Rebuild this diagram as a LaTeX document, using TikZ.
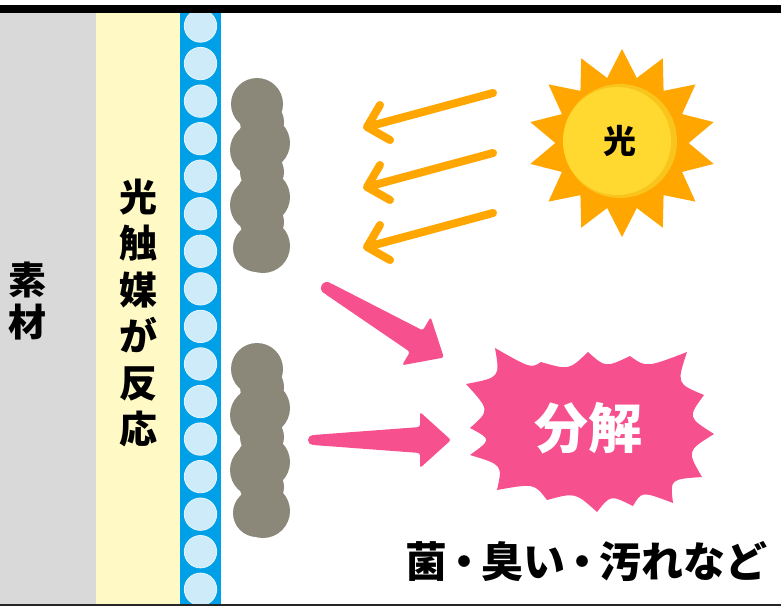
\documentclass[tikz,border=0pt]{standalone}
\usepackage{fontspec}
\newfontfamily\jp{Noto Sans CJK JP}
\usetikzlibrary{shapes.geometric,calc}

\definecolor{substrate}{HTML}{D9D9D9}
\definecolor{coat}{HTML}{FFF9C6}
\definecolor{film}{HTML}{00A0E9}
\definecolor{bubble}{HTML}{CDEBF8}
\definecolor{grime}{HTML}{8B8879}
\definecolor{sunorange}{HTML}{FFA600}
\definecolor{sundisc}{HTML}{FFD92F}
\definecolor{sunrim}{HTML}{F9C51C}
\definecolor{hotpink}{HTML}{F7508F}

% concave scallop between two burst tips
\newcommand\burstedge[2]{.. controls ($0.41*(#1)+0.41*(#2)+0.18*(bc)$) .. (#2)}

\begin{document}
\begin{tikzpicture}[x=1pt,y=-1pt,
  label/.style={font=\jp\bfseries, inner sep=0pt, align=center},
  ray/.style={draw=sunorange, line width=8pt, line cap=round, line join=round},
  pinkarrow/.style={fill=hotpink, rounded corners=2.5pt},
  dirt/.style={fill=grime}]
\useasboundingbox (0,0) rectangle (781,606);
\fill[white] (0,0) rectangle (781,606);

% material layers
\fill[substrate] (0,13) rectangle (96,604);
\fill[coat] (96,13) rectangle (180,604);
\fill[film] (180,13) rectangle (221,604);
\begin{scope}
  \clip (180,13) rectangle (221,604);
  \foreach \k in {0,...,15}
    \fill[bubble, draw=white!55!bubble, line width=0.8pt] (200.5,26+37.55*\k) circle (16.2pt);
\end{scope}

% frame lines
\fill[black] (0,5) rectangle (781,13);
\fill[black!85] (0,604) rectangle (781,606);

% layer captions
\node[label, font=\jp\bfseries\fontsize{38}{42}\selectfont] (material) at (28,301) {素\\材};
\node[label, font=\jp\bfseries\fontsize{38}{46.4}\selectfont] (catalyst) at (138,313) {光\\触\\媒\\が\\反\\応};

% grime patches on the surface (each blob filled on its own)
\foreach \dy/\nm in {0/upper,265/lower}{
  \begin{scope}[yshift=-\dy pt]
    \foreach \cx/\cy/\r in {257/104/26, 262/122/22, 263/143/27, 257/150/27,
                            262/172/22, 263/197/27, 257/205/27, 262/222/22,
                            263/246/27, 257/248/24}
      \fill[dirt] (\cx,\cy) circle (\r pt);
  \end{scope}
}

% sun
\node[star, star points=14, star point ratio=1.41, minimum size=188pt,
      inner sep=0pt, fill=sunorange] (sun) at (622,143) {};
\fill[sunrim] (620,141) circle (57pt);
\fill[sundisc] (617,141) circle (54pt);
\node[label, font=\jp\bfseries\fontsize{33}{33}\selectfont] (light) at (620,141) {光};

% incoming light
\foreach \i/\y in {1/0,2/60,3/120}{
  \coordinate (r\i s) at (493,93+\y);
  \coordinate (r\i e) at (367,127+\y);
  \draw[ray] (r\i s) -- (r\i e) ($(r\i e)+(13,-22)$) -- (r\i e) -- ($(r\i e)+(23,13)$);
}

% decomposition arrows
\begin{scope}[shift={(327,288)}, rotate=-30.75]
  \fill[hotpink] (0,0) circle (6pt);
  \fill[pinkarrow] (0,-6) -- (104,-12.5) -- (104,-28) -- (136,0)
    -- (104,28) -- (104,12.5) -- (0,6) -- cycle;
\end{scope}
\begin{scope}[shift={(313,440)}]
  \fill[hotpink] (0,0) circle (5pt);
  \fill[pinkarrow] (0,-5) -- (107,-13) -- (107,-28) -- (138,0)
    -- (107,28) -- (107,13) -- (0,5) -- cycle;
\end{scope}

% burst
\coordinate (bc) at (590,430);
\coordinate (b1) at (495,348);
\coordinate (b2) at (541,362);
\coordinate (b3) at (588,352);
\coordinate (b4) at (630,356);
\coordinate (b5) at (687,352);
\coordinate (b6) at (704,395);
\coordinate (b7) at (714,434);
\coordinate (b8) at (702,477);
\coordinate (b9) at (673,503);
\coordinate (b10) at (633,506);
\coordinate (b11) at (597,512);
\coordinate (b12) at (547,500);
\coordinate (b13) at (497,490);
\coordinate (b14) at (470,455);
\coordinate (b15) at (470,428);
\coordinate (b16) at (466,384);
\fill[hotpink] (b1) \burstedge{b1}{b2} \burstedge{b2}{b3} \burstedge{b3}{b4}
  \burstedge{b4}{b5} \burstedge{b5}{b6} \burstedge{b6}{b7} \burstedge{b7}{b8}
  \burstedge{b8}{b9} \burstedge{b9}{b10} \burstedge{b10}{b11} \burstedge{b11}{b12}
  \burstedge{b12}{b13} \burstedge{b13}{b14} \burstedge{b14}{b15} \burstedge{b15}{b16}
  \burstedge{b16}{b1} -- cycle;
\node[label, text=white, font=\jp\bfseries\fontsize{54}{54}\selectfont] (decomp) at (588,428) {分解};

% targets
\node[label, font=\jp\bfseries\fontsize{42}{42}\selectfont] (targets) at (586,562)
  {菌\kern-4pt・\kern-4pt臭い\kern-4pt・\kern-4pt汚れなど};
\end{tikzpicture}
\end{document}
